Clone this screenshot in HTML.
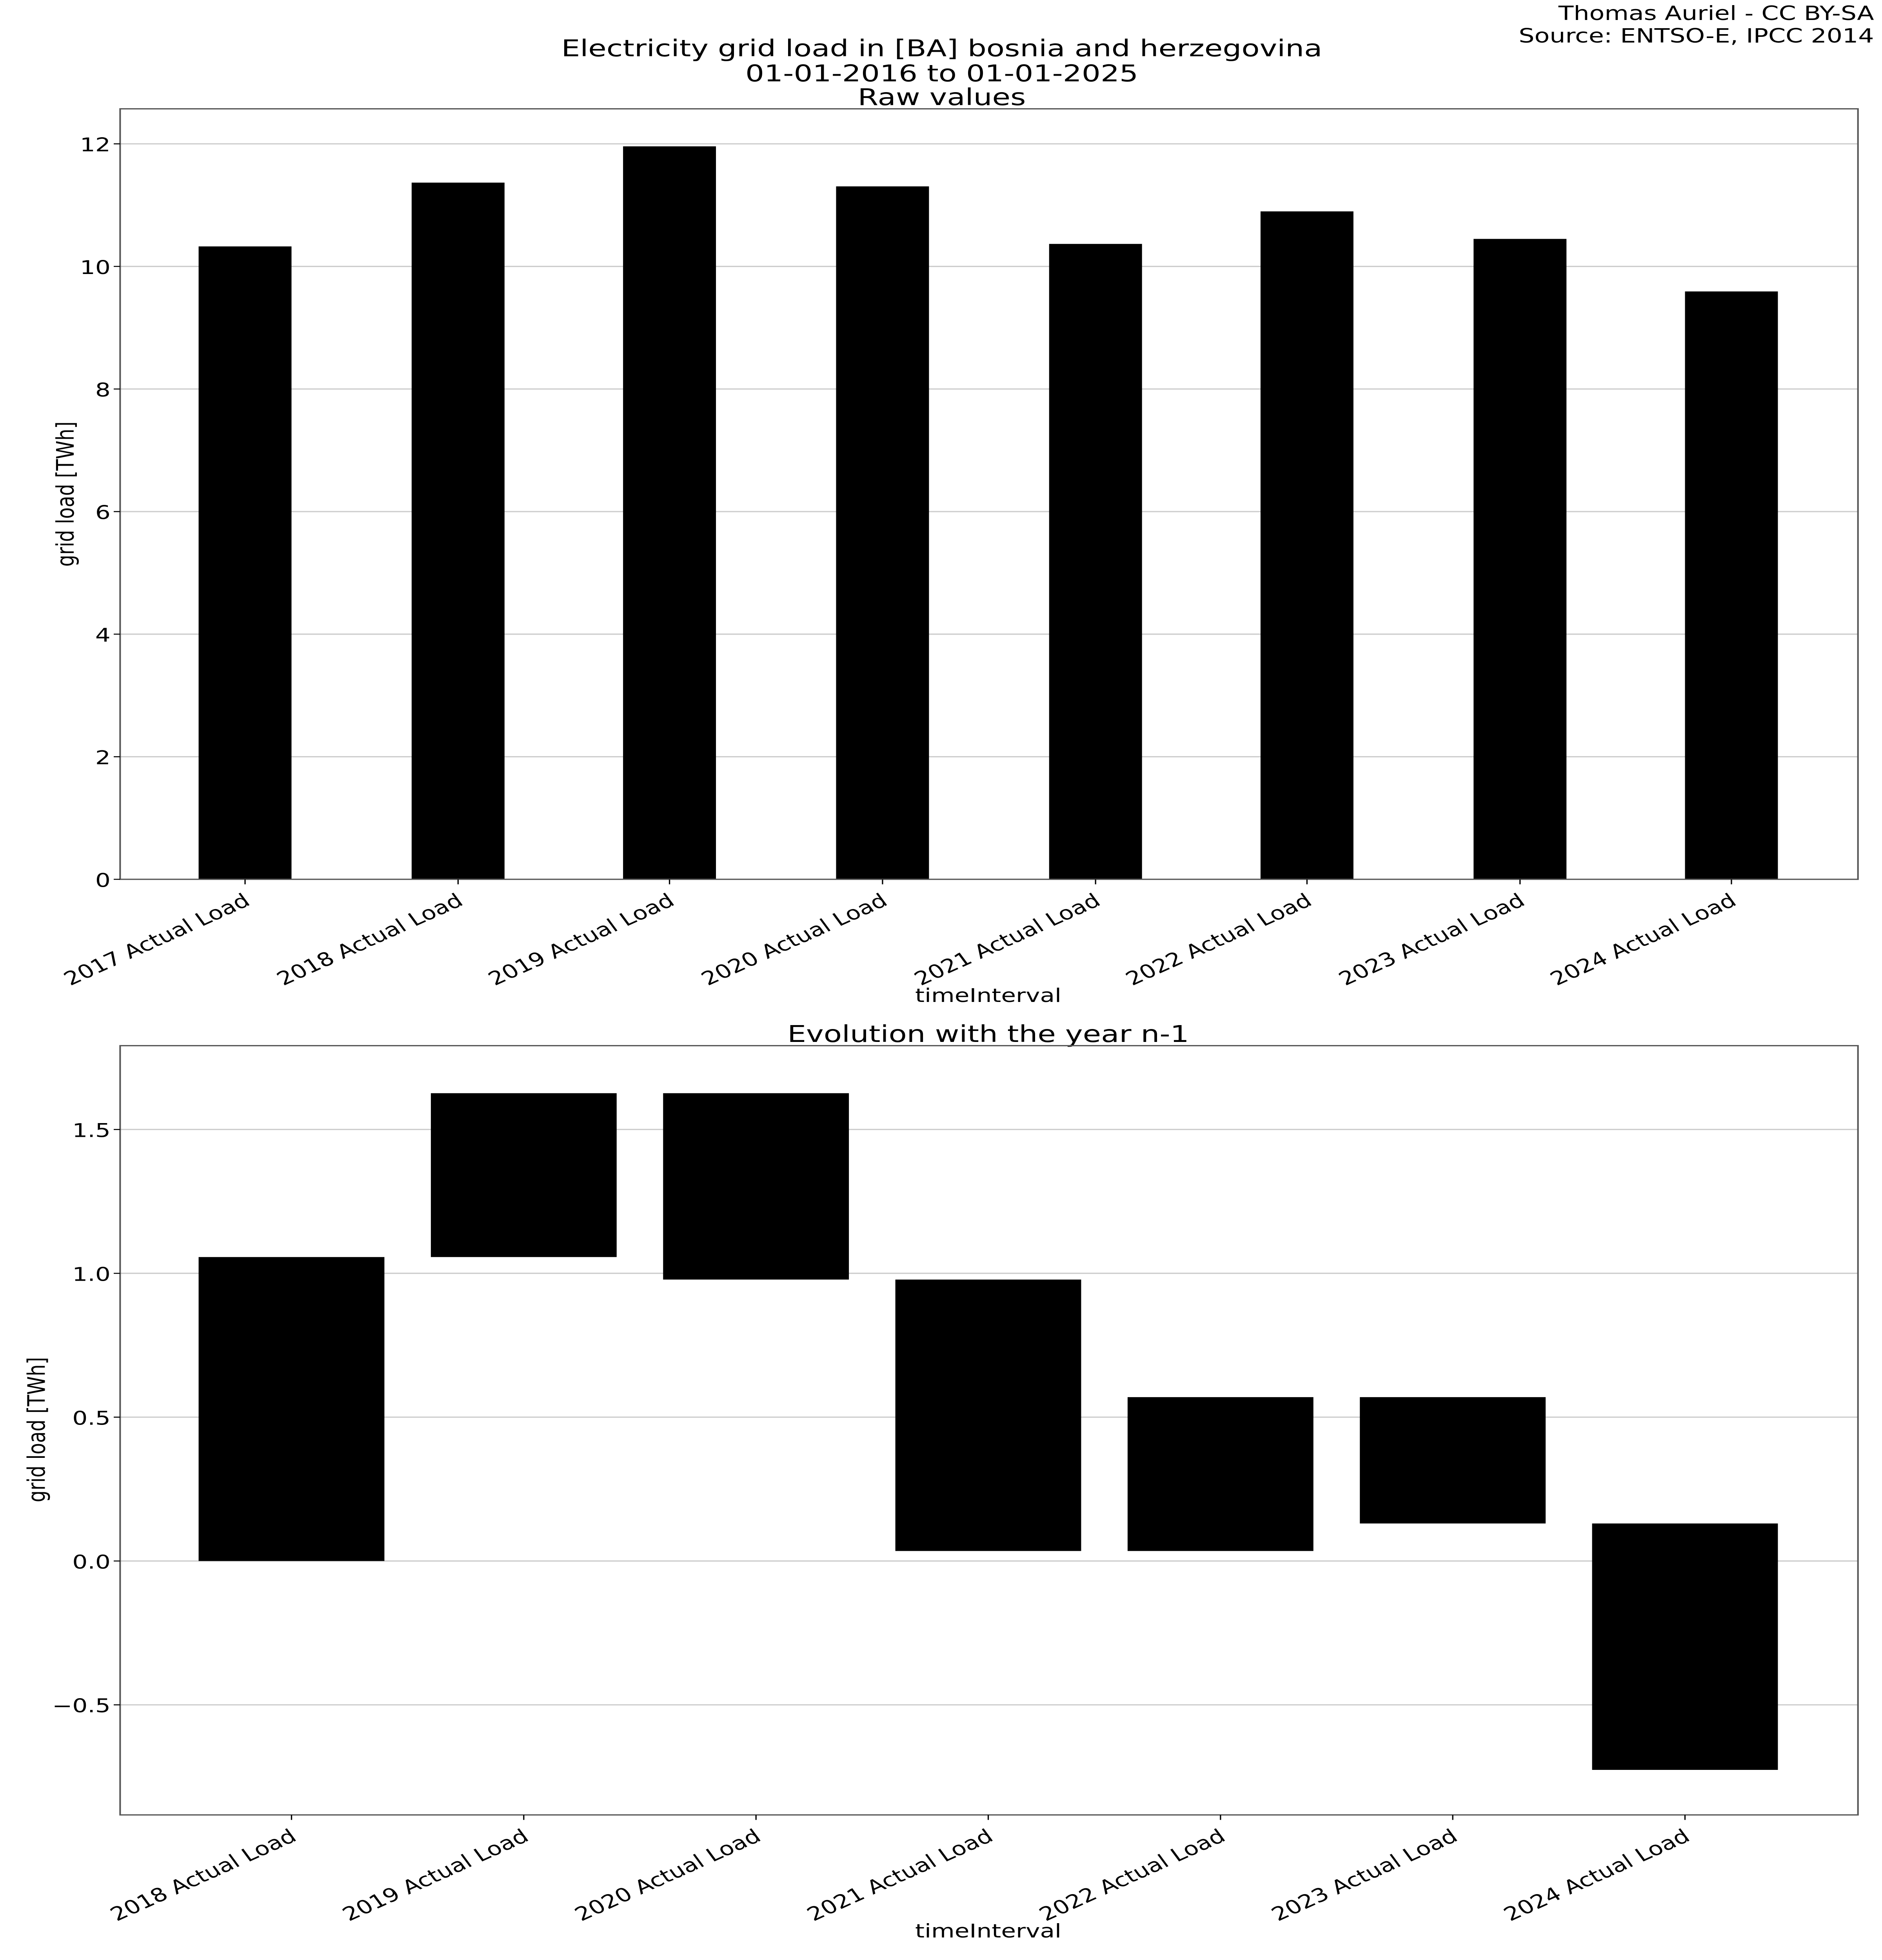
<!DOCTYPE html>
<html><head><meta charset="utf-8"><style>html,body{margin:0;padding:0;background:#fff;width:100%;height:100%;overflow:hidden}svg{display:block;position:fixed;left:0;top:0;width:100vw;height:100vh}</style></head>
<body>
<svg xmlns="http://www.w3.org/2000/svg" viewBox="0 0 1175 1567" preserveAspectRatio="none" font-family="DejaVu Sans, Liberation Sans, sans-serif" fill="#000">
<rect width="1175" height="1567" fill="#fff"/>
<text x="1170" y="16" font-size="15.5" text-anchor="end">Thomas Auriel - CC BY-SA</text>
<text x="1170" y="34" font-size="15.5" text-anchor="end">Source: ENTSO-E, IPCC 2014</text>
<text x="588" y="45" font-size="18.5" text-anchor="middle">Electricity grid load in [BA] bosnia and herzegovina</text>
<text x="588" y="65" font-size="18.5" text-anchor="middle">01-01-2016 to 01-01-2025</text>
<text x="588" y="84" font-size="18.5" text-anchor="middle">Raw values</text>
<g stroke="#ccc" stroke-width="1">
<line x1="75" x2="1160" y1="115" y2="115"/><line x1="75" x2="1160" y1="213" y2="213"/><line x1="75" x2="1160" y1="311" y2="311"/><line x1="75" x2="1160" y1="409" y2="409"/><line x1="75" x2="1160" y1="507" y2="507"/><line x1="75" x2="1160" y1="605" y2="605"/>
</g>
<g>
<rect x="124" y="197" width="58" height="506"/><rect x="257" y="146" width="58" height="557"/><rect x="389" y="117" width="58" height="586"/><rect x="522" y="149" width="58" height="554"/><rect x="655" y="195" width="58" height="508"/><rect x="787" y="169" width="58" height="534"/><rect x="920" y="191" width="58" height="512"/><rect x="1052" y="233" width="58" height="470"/>
</g>
<rect x="75" y="87" width="1085" height="616" fill="none" stroke="#555" stroke-width="1"/>
<g font-size="15" text-anchor="end">
<text x="69" y="709">0</text><text x="69" y="611">2</text><text x="69" y="513">4</text><text x="69" y="415">6</text><text x="69" y="317">8</text><text x="69" y="219">10</text><text x="69" y="121">12</text>
</g>
<g stroke="#000" stroke-width="0.8">
<line x1="71" x2="75" y1="703" y2="703"/><line x1="71" x2="75" y1="605" y2="605"/><line x1="71" x2="75" y1="507" y2="507"/><line x1="71" x2="75" y1="409" y2="409"/><line x1="71" x2="75" y1="311" y2="311"/><line x1="71" x2="75" y1="213" y2="213"/><line x1="71" x2="75" y1="115" y2="115"/>
<line x1="153" x2="153" y1="703" y2="707"/><line x1="286" x2="286" y1="703" y2="707"/><line x1="418" x2="418" y1="703" y2="707"/><line x1="551" x2="551" y1="703" y2="707"/><line x1="684" x2="684" y1="703" y2="707"/><line x1="816" x2="816" y1="703" y2="707"/><line x1="949" x2="949" y1="703" y2="707"/><line x1="1081" x2="1081" y1="703" y2="707"/>
</g>
<g font-size="15" text-anchor="end">
<text transform="translate(153,716) rotate(-30)" y="8">2017 Actual Load</text>
<text transform="translate(286,716) rotate(-30)" y="8">2018 Actual Load</text>
<text transform="translate(418,716) rotate(-30)" y="8">2019 Actual Load</text>
<text transform="translate(551,716) rotate(-30)" y="8">2020 Actual Load</text>
<text transform="translate(684,716) rotate(-30)" y="8">2021 Actual Load</text>
<text transform="translate(816,716) rotate(-30)" y="8">2022 Actual Load</text>
<text transform="translate(949,716) rotate(-30)" y="8">2023 Actual Load</text>
<text transform="translate(1081,716) rotate(-30)" y="8">2024 Actual Load</text>
</g>
<text x="617" y="801" font-size="15" text-anchor="middle">timeInterval</text>
<text transform="translate(46,395) rotate(-90)" font-size="15" text-anchor="middle">grid load [TWh]</text>

<text x="617" y="833" font-size="18.5" text-anchor="middle">Evolution with the year n-1</text>
<g stroke="#ccc" stroke-width="1">
<line x1="75" x2="1160" y1="903" y2="903"/><line x1="75" x2="1160" y1="1018" y2="1018"/><line x1="75" x2="1160" y1="1133" y2="1133"/><line x1="75" x2="1160" y1="1248" y2="1248"/><line x1="75" x2="1160" y1="1363" y2="1363"/>
</g>
<g>
<rect x="124" y="1005" width="116" height="243"/>
<rect x="269" y="874" width="116" height="131"/>
<rect x="414" y="874" width="116" height="149"/>
<rect x="559" y="1023" width="116" height="217"/>
<rect x="704" y="1117" width="116" height="123"/>
<rect x="849" y="1117" width="116" height="101"/>
<rect x="994" y="1218" width="116" height="197"/>
</g>
<rect x="75" y="836" width="1085" height="615" fill="none" stroke="#555" stroke-width="1"/>
<g font-size="15" text-anchor="end">
<text x="69" y="909">1.5</text><text x="69" y="1024">1.0</text><text x="69" y="1139">0.5</text><text x="69" y="1254">0.0</text><text x="69" y="1369">−0.5</text>
</g>
<g stroke="#000" stroke-width="0.8">
<line x1="71" x2="75" y1="903" y2="903"/><line x1="71" x2="75" y1="1018" y2="1018"/><line x1="71" x2="75" y1="1133" y2="1133"/><line x1="71" x2="75" y1="1248" y2="1248"/><line x1="71" x2="75" y1="1363" y2="1363"/>
<line x1="182" x2="182" y1="1451" y2="1455"/><line x1="327" x2="327" y1="1451" y2="1455"/><line x1="472" x2="472" y1="1451" y2="1455"/><line x1="617" x2="617" y1="1451" y2="1455"/><line x1="762" x2="762" y1="1451" y2="1455"/><line x1="907" x2="907" y1="1451" y2="1455"/><line x1="1052" x2="1052" y1="1451" y2="1455"/>
</g>
<g font-size="15" text-anchor="end">
<text transform="translate(182,1464) rotate(-30)" y="8">2018 Actual Load</text>
<text transform="translate(327,1464) rotate(-30)" y="8">2019 Actual Load</text>
<text transform="translate(472,1464) rotate(-30)" y="8">2020 Actual Load</text>
<text transform="translate(617,1464) rotate(-30)" y="8">2021 Actual Load</text>
<text transform="translate(762,1464) rotate(-30)" y="8">2022 Actual Load</text>
<text transform="translate(907,1464) rotate(-30)" y="8">2023 Actual Load</text>
<text transform="translate(1052,1464) rotate(-30)" y="8">2024 Actual Load</text>
</g>
<text x="617" y="1549" font-size="15" text-anchor="middle">timeInterval</text>
<text transform="translate(28,1143) rotate(-90)" font-size="15" text-anchor="middle">grid load [TWh]</text>
</svg>
</body></html>
